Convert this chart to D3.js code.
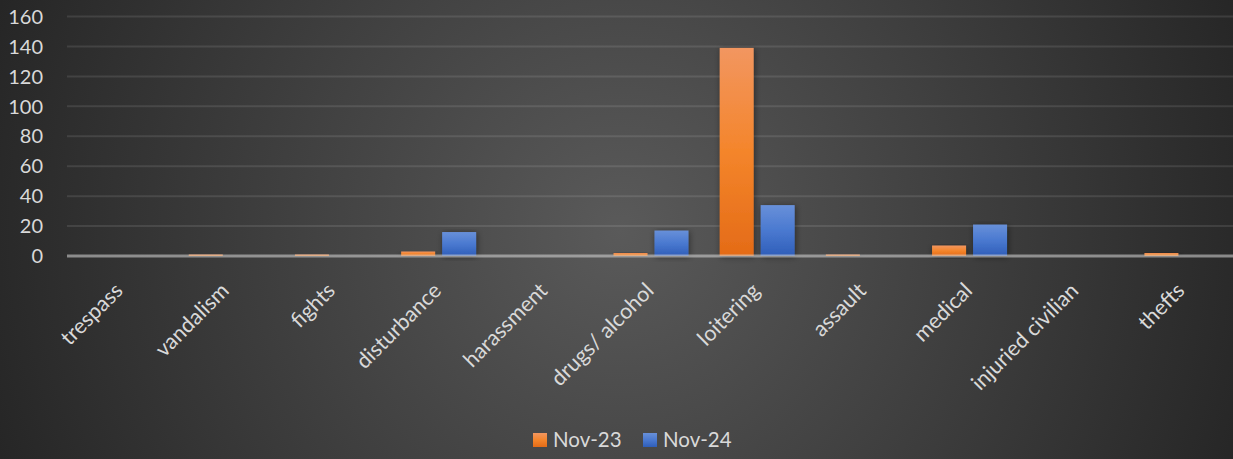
<!DOCTYPE html>
<html>
<head>
<meta charset="utf-8">
<script src="https://cdn.jsdelivr.net/npm/d3@7"></script>
<style>
  html, body { margin: 0; padding: 0; background: #262626; }
  svg { display: block; }
  text { font-family: Lato, "Open Sans", sans-serif; fill: #d9d9d9; }
</style>
</head>
<body>
<div id="chart"></div>
<script>
const categories = ["trespass", "vandalism", "fights", "disturbance", "harassment",
    "drugs/ alcohol", "loitering", "assault", "medical", "injuried civilian", "thefts"];
const nov23 = [0, 1, 1, 3, 0, 2, 139, 1, 7, 0, 2];
const nov24 = [0, 0, 0, 16, 0, 17, 34, 0, 21, 0, 0];
const seriesNames = ["Nov-23", "Nov-24"];
const yTicks = [0, 20, 40, 60, 80, 100, 120, 140, 160];

const width = 1233, height = 459;
const margin = { top: 16.5, right: -2, bottom: 203, left: 67 };

const svg = d3.select("#chart")
    .append("svg")
    .attr("width", width)
    .attr("height", height);

const defs = svg.append("defs");

// background radial fill, lighter in the middle
const bg = defs.append("radialGradient")
    .attr("id", "bg")
    .attr("gradientUnits", "userSpaceOnUse")
    .attr("cx", 620).attr("cy", 230).attr("r", 660);
bg.append("stop").attr("offset", 0).attr("stop-color", "#5a5a5a");
bg.append("stop").attr("offset", 1).attr("stop-color", "#262626");

const fills = [
    ["#f29660", "#f4852b", "#e46b17"],
    ["#6890d9", "#4a79d0", "#2f5eb9"]
];
fills.forEach(function(c, i) {
    let g = defs.append("linearGradient")
        .attr("id", "bar" + i)
        .attr("x1", 0).attr("y1", 0).attr("x2", 0).attr("y2", 1);
    g.append("stop").attr("offset", 0).attr("stop-color", c[0]);
    g.append("stop").attr("offset", 0.5).attr("stop-color", c[1]);
    g.append("stop").attr("offset", 1).attr("stop-color", c[2]);
});

defs.append("filter")
    .attr("id", "shadow")
    .attr("x", "-30%").attr("y", "-10%").attr("width", "160%").attr("height", "130%")
    .append("feDropShadow")
    .attr("dx", 1).attr("dy", 1).attr("stdDeviation", 3)
    .attr("flood-color", "#000").attr("flood-opacity", 0.45);

svg.append("rect")
    .attr("width", width).attr("height", height)
    .attr("fill", "url(#bg)");

const x0 = d3.scaleBand()
    .domain(categories)
    .range([margin.left, width - margin.right])
    .paddingInner(0.294)
    .paddingOuter(0.147);

const x1 = d3.scaleBand()
    .domain([0, 1])
    .range([0, x0.bandwidth()])
    .paddingInner(0.171);

const y = d3.scaleLinear()
    .domain([0, 160])
    .range([height - margin.bottom, margin.top]);

// gridlines
svg.append("g")
    .selectAll("line")
    .data(yTicks.slice(1))
    .join("line")
    .attr("x1", margin.left)
    .attr("x2", width)
    .attr("y1", d => y(d))
    .attr("y2", d => y(d))
    .attr("stroke", "#ffffff")
    .attr("stroke-opacity", 0.1)
    .attr("stroke-width", 2);

// y labels
svg.append("g")
    .selectAll("text")
    .data(yTicks)
    .join("text")
    .attr("x", 43)
    .attr("y", d => y(d))
    .attr("dy", "0.36em")
    .attr("text-anchor", "end")
    .style("font-size", "20px")
    .text(d => d);

// bars
const series = [nov23, nov24];
const groups = svg.append("g")
    .selectAll("g")
    .data(categories)
    .join("g")
    .attr("transform", d => `translate(${x0(d)},0)`);

groups.selectAll("rect")
    .data((d, i) => series.map((s, k) => ({ k: k, v: s[i] })).filter(e => e.v > 0))
    .join("rect")
    .attr("x", d => x1(d.k))
    .attr("width", x1.bandwidth())
    .attr("y", d => y(d.v))
    .attr("height", d => y(0) - y(d.v))
    .attr("fill", d => `url(#bar${d.k})`)
    .attr("filter", "url(#shadow)");

// category axis line
svg.append("line")
    .attr("x1", margin.left)
    .attr("x2", width)
    .attr("y1", y(0))
    .attr("y2", y(0))
    .attr("stroke", "#d9d9d9")
    .attr("stroke-opacity", 0.55)
    .attr("stroke-width", 3);

// category labels
svg.append("g")
    .selectAll("text")
    .data(categories)
    .join("text")
    .attr("transform", d => `translate(${x0(d) + x0.bandwidth() / 2 + 4},292) rotate(-45)`)
    .attr("text-anchor", "end")
    .style("font-size", "21.5px")
    .text(d => d);

// legend
const legendX = [533, 643];
const legend = svg.append("g")
    .selectAll("g")
    .data(seriesNames)
    .join("g")
    .attr("transform", (d, i) => `translate(${legendX[i]},433)`);

legend.append("rect")
    .attr("width", 14)
    .attr("height", 14)
    .attr("fill", (d, i) => `url(#bar${i})`);

legend.append("text")
    .attr("x", 20)
    .attr("y", 7)
    .attr("dy", "0.36em")
    .style("font-size", "20.5px")
    .text(d => d);
</script>
</body>
</html>
